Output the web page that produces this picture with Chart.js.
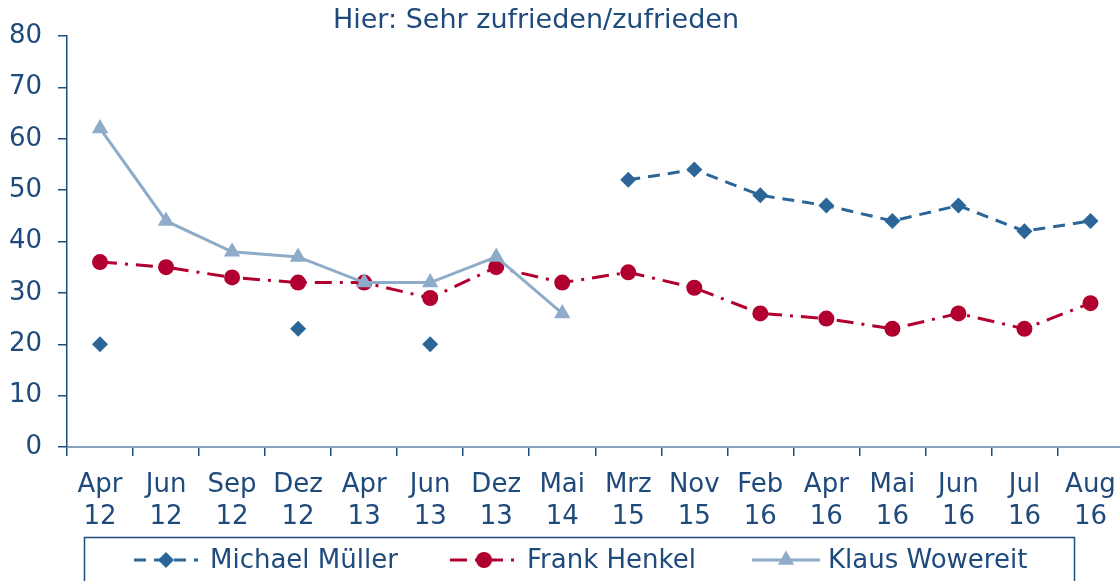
<!DOCTYPE html>
<html>
<head>
<meta charset="utf-8">
<script src="https://cdn.jsdelivr.net/npm/chart.js@4.4.0/dist/chart.umd.min.js"></script>
<style>
body { margin: 0; overflow: hidden; background: #fff; }
#wrap { width: 1133px; height: 581px; }
</style>
</head>
<body>
<div id="wrap"><canvas id="chart" width="1133" height="581"></canvas></div>
<script>
// Zufriedenheit, Hier: Sehr zufrieden/zufrieden

const months = [
["Apr","12"],["Jun","12"],["Sep","12"],["Dez","12"],
["Apr","13"],["Jun","13"],["Dez","13"],["Mai","14"],
["Mrz","15"],["Nov","15"],["Feb","16"],["Apr","16"],
["Mai","16"],["Jun","16"],["Jul","16"],["Aug","16"]
];

const mueller = [20,null,null,23,null,20,null,null,52,54,49,47,44,47,42,44];
const henkel = [36,35,33,32,32,29,35,32,34,31,26,25,23,26,23,28];
const wowereit = [62,44,38,37,32,32,37,26,null,null,null,null,null,null,null,null];

const yTicks = [0,10,20,30,40,50,60,70,80];

const titleText = "Hier: Sehr zufrieden/zufrieden";

const textColor = "#1f4a7c";
const font = "DejaVu Sans";
const fontSize = 26;


// draws a marker for the legend

function marker(ctx, style, x, y, r, color){
ctx.save();
ctx.fillStyle = color;
ctx.setLineDash([]);
ctx.beginPath();
if(style == "circle"){
ctx.arc(x, y, r, 0, Math.PI*2);
}
if(style == "rectRot"){
ctx.moveTo(x-r, y); ctx.lineTo(x, y-r); ctx.lineTo(x+r, y); ctx.lineTo(x, y+r);
}
if(style == "triangle"){
ctx.moveTo(x, y-r);
ctx.lineTo(x+Math.sin(2*Math.PI/3)*r, y-Math.cos(2*Math.PI/3)*r);
ctx.lineTo(x+Math.sin(4*Math.PI/3)*r, y-Math.cos(4*Math.PI/3)*r);
}
ctx.closePath();
ctx.fill();
ctx.restore();
}


// title and boxed legend

const extras = {
id: "extras",
afterDraw(chart){
const ctx = chart.ctx;
ctx.save();
ctx.fillStyle = textColor;
ctx.font = "27px '" + font + "'";
ctx.textAlign = "center";
ctx.textBaseline = "middle";
ctx.fillText(titleText, 536, 21);

ctx.font = fontSize + "px '" + font + "'";
ctx.strokeStyle = "#1f4e79";
ctx.lineWidth = 1.5;
ctx.strokeRect(84.5, 537.5, 990, 60);

const spots = [[134,198,210],[450,518,527],[752,820,828]];
const ly = 560;
chart.data.datasets.forEach(function(ds, i){
const s = spots[i];
ctx.strokeStyle = ds.borderColor;
ctx.lineWidth = ds.borderWidth;
ctx.setLineDash(ds.borderDash || []);
ctx.beginPath();
ctx.moveTo(s[0], ly);
ctx.lineTo(s[1], ly);
ctx.stroke();
marker(ctx, ds.pointStyle, (s[0]+s[1])/2, ly, ds.pointRadius, ds.borderColor);
ctx.fillStyle = textColor;
ctx.textAlign = "left";
ctx.fillText(ds.label, s[2], ly + 1);
});
ctx.restore();
}
};


const ctx = document.getElementById("chart").getContext("2d");

new Chart(ctx, {
type: "line",

data: {
labels: months,
datasets: [
{
label: "Michael Müller",
data: mueller,
borderColor: "#2c6698",
backgroundColor: "#2c6698",
borderWidth: 3,
borderDash: [12,8],
pointStyle: "rectRot",
pointRadius: 8,
pointBorderWidth: 0,
spanGaps: false,
order: 1
},
{
label: "Frank Henkel",
data: henkel,
borderColor: "#b1002f",
backgroundColor: "#b1002f",
borderWidth: 3,
borderDash: [17,8,3,8],
pointStyle: "circle",
pointRadius: 8,
pointBorderWidth: 0,
order: 2
},
{
label: "Klaus Wowereit",
data: wowereit,
borderColor: "#8eacc9",
backgroundColor: "#8eacc9",
borderWidth: 3,
pointStyle: "triangle",
pointRadius: 9.5,
pointBorderWidth: 0,
spanGaps: false,
order: 0
}
]
},

options: {
responsive: false,
animation: false,
layout: { padding: { top: 36, left: 0, right: 0, bottom: 0 } },
plugins: {
legend: { display: false },
title: { display: false },
tooltip: { enabled: false }
},
scales: {
x: {
offset: true,
grid: { display: true, drawOnChartArea: false, offset: true, tickLength: 9, color: "#1f4e79", lineWidth: 1.5 },
border: { color: "#86a3c2", width: 2 },
ticks: {
color: textColor,
font: { family: font, size: fontSize, lineHeight: 1.2 },
autoSkip: false,
maxRotation: 0,
padding: 14
},
afterFit: function(scale){ scale.height = 134; }
},
y: {
min: 0,
max: 80,
grid: { display: true, drawOnChartArea: false, tickLength: 9, color: "#1f4e79", lineWidth: 1.5 },
border: { color: "#1f4e79", width: 1.5 },
ticks: {
color: textColor,
font: { family: font, size: fontSize },
padding: 16,
stepSize: 10,
callback: function(v){ return yTicks.includes(v) ? v : ""; }
},
afterFit: function(scale){ scale.width = 67; }
}
}
},

plugins: [extras]
});
</script>
</body>
</html>
